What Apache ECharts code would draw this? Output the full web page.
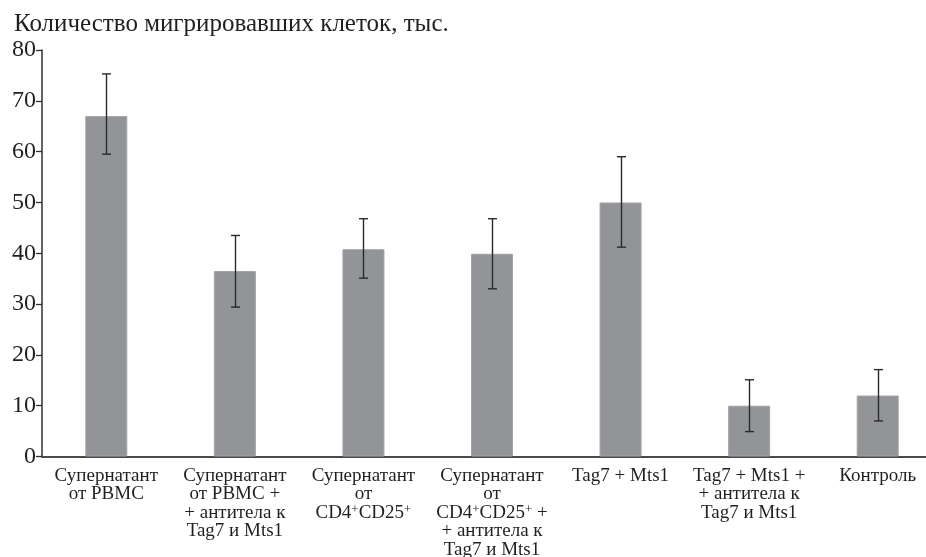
<!DOCTYPE html>
<html>
<head>
<meta charset="utf-8">
<style>
  html, body { margin: 0; padding: 0; background: #fff; }
  #chart { width: 926px; height: 557px; }
</style>
<script src="https://cdn.jsdelivr.net/npm/echarts@6/dist/echarts.min.js"></script>
</head>
<body>
<div id="chart"></div>
<script>
// Groups along the x axis
const categories = [
  'Супернатант\nот PBMC',
  'Супернатант\nот PBMC +\n+ антитела к\nTag7 и Mts1',
  'Супернатант\nот\nCD4⁺CD25⁺',
  'Супернатант\nот\nCD4⁺CD25⁺ +\n+ антитела к\nTag7 и Mts1',
  'Tag7 + Mts1',
  'Tag7 + Mts1 +\n+ антитела к\nTag7 и Mts1',
  'Контроль'
];
// Mean number of migrated cells, thousands
const migrated = [67, 36.5, 40.8, 39.9, 50, 10, 12];
// Lower and upper ends of the error bars
const errLow  = [59.5, 29.4, 35.1, 33.0, 41.2, 4.9, 7.0];
const errHigh = [75.3, 43.5, 46.8, 46.8, 59.0, 15.1, 17.1];
// Y axis ticks
const yTicks = [0, 10, 20, 30, 40, 50, 60, 70, 80];

const FONT = '"Liberation Serif", "DejaVu Serif", serif';
const INK = '#231f20';

const chart = echarts.init(document.getElementById('chart'), null, { renderer: 'canvas' });

const errData = categories.map((c, i) => [i, errLow[i], errHigh[i]]);

chart.setOption({
  animation: false,
  backgroundColor: '#ffffff',
  title: {
    text: 'Количество мигрировавших клеток, тыс.',
    left: 9,
    top: 7,
    textStyle: { fontFamily: FONT, fontSize: 25, fontWeight: 'normal', color: INK }
  },
  // the plot runs past the right edge, so the last group sits near the border
  grid: { left: 42, width: 900, top: 50, bottom: 100.5, containLabel: false, outerBoundsMode: 'none' },
  xAxis: {
    type: 'category',
    data: categories,
    boundaryGap: true,
    axisLine: { show: true, lineStyle: { color: '#4a4a4c', width: 2 } },
    axisTick: { show: false },
    splitLine: { show: false },
    axisLabel: {
      interval: 0,
      margin: 10,
      fontFamily: FONT,
      fontSize: 19,
      lineHeight: 18.5,
      color: INK,
      align: 'center',
      formatter: v => v.replace(/⁺/g, '{s|+}'),
      rich: {
        s: { fontFamily: FONT, fontSize: 13, lineHeight: 10, verticalAlign: 'top', color: INK }
      }
    }
  },
  yAxis: {
    type: 'value',
    min: yTicks[0],
    max: yTicks[yTicks.length - 1],
    interval: 10,
    axisLine: { show: true, lineStyle: { color: '#2f2f30', width: 1.5 } },
    axisTick: { show: true, inside: false, length: 6, lineStyle: { color: '#2f2f30', width: 1.3 } },
    splitLine: { show: false },
    axisLabel: {
      margin: 6,
      fontFamily: FONT,
      fontSize: 24,
      color: INK,
      formatter: v => String(v)
    }
  },
  series: [
    {
      type: 'bar',
      data: migrated,
      barWidth: 42,
      itemStyle: { color: '#939497', borderColor: '#a3a4a7', borderWidth: 1 },
      z: 2
    },
    {
      type: 'custom',
      data: errData,
      z: 5,
      renderItem: (params, api) => {
        const i = api.value(0);
        const lo = api.coord([i, api.value(1)]);
        const hi = api.coord([i, api.value(2)]);
        const x = Math.round(lo[0]) + 0.5;
        const cap = 4.5;
        const style = { stroke: '#2a2a2c', lineWidth: 1.4, fill: null };
        return {
          type: 'group',
          children: [
            { type: 'line', shape: { x1: x, y1: hi[1], x2: x, y2: lo[1] }, style },
            { type: 'line', shape: { x1: x - cap, y1: hi[1], x2: x + cap, y2: hi[1] }, style },
            { type: 'line', shape: { x1: x - cap, y1: lo[1], x2: x + cap, y2: lo[1] }, style }
          ]
        };
      }
    }
  ]
});
</script>
</body>
</html>
